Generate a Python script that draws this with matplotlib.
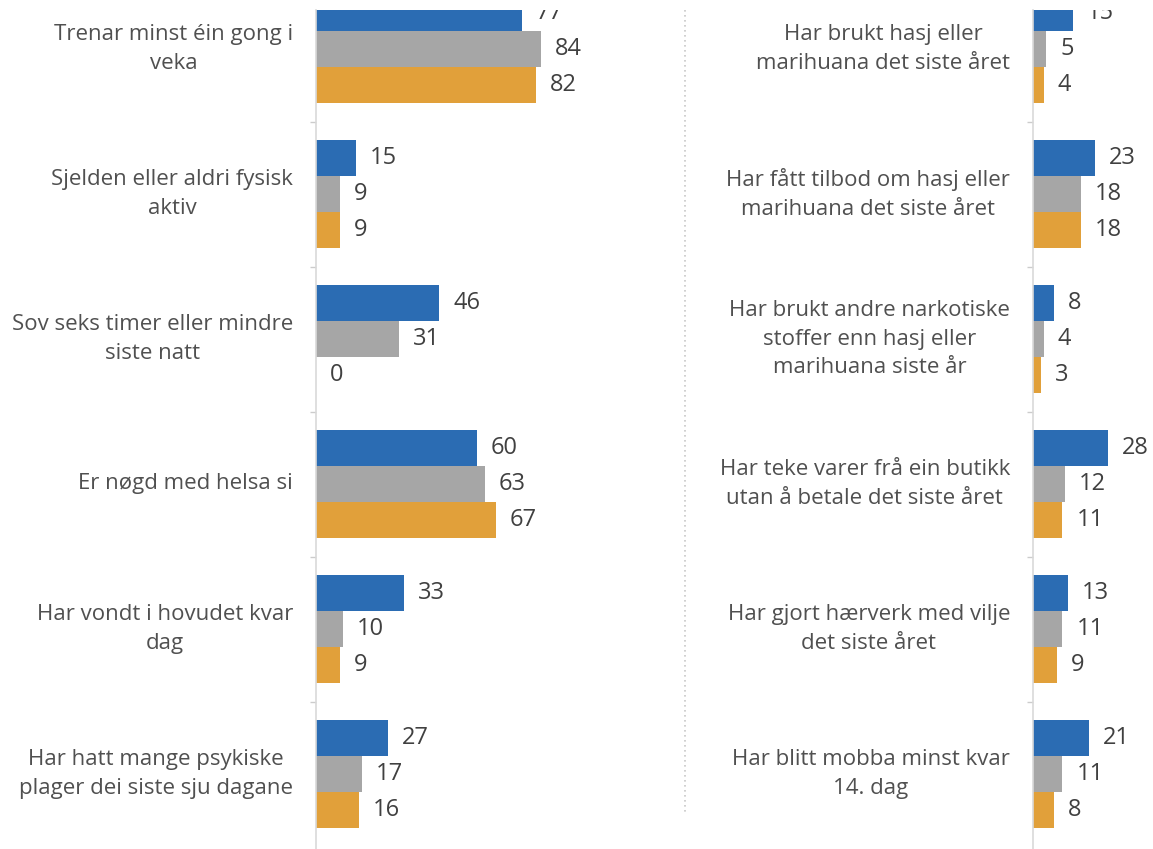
import matplotlib
matplotlib.use("Agg")
import matplotlib.pyplot as plt
import matplotlib.transforms as mtransforms
from matplotlib.lines import Line2D

# -- Data ---------------------------------------------------------------------
left_labels = [
    "Trenar minst éin gong i\nveka",
    "Sjelden eller aldri fysisk\naktiv",
    "Sov seks timer eller mindre\nsiste natt",
    "Er nøgd med helsa si",
    "Har vondt i hovudet kvar\ndag",
    "Har hatt mange psykiske\nplager dei siste sju dagane",
]
left_blue = [77, 15, 46, 60, 33, 27]
left_gray = [84, 9, 31, 63, 10, 17]
left_orange = [82, 9, 0, 67, 9, 16]

right_labels = [
    "Har brukt hasj eller\nmarihuana det siste året",
    "Har fått tilbod om hasj eller\nmarihuana det siste året",
    "Har brukt andre narkotiske\nstoffer enn hasj eller\nmarihuana siste år",
    "Har teke varer frå ein butikk\nutan å betale det siste året",
    "Har gjort hærverk med vilje\ndet siste året",
    "Har blitt mobba minst kvar\n14. dag",
]
right_blue = [15, 23, 8, 28, 13, 21]
right_gray = [5, 18, 4, 12, 11, 11]
right_orange = [4, 18, 3, 11, 9, 8]

# -- Style --------------------------------------------------------------------
BLUE, GRAY, ORANGE = "#2b6cb3", "#a6a6a6", "#e1a03a"
LABEL_COLOR, VALUE_COLOR = "#505050", "#404040"
plt.rcParams["font.family"] = ["Open Sans", "DejaVu Sans"]

W, H = 1153, 849
fig = plt.figure(figsize=(W / 100, H / 100), dpi=100)

PX_PER_UNIT = 2.68
PITCH = 145.0
TOP_PX, CENTER0_PX = 10, 49
BAR_H = 36 / PITCH


def px_box(x0, x1, y0, y1):
    return [x0 / W, 1 - y1 / H, (x1 - x0) / W, (y1 - y0) / H]


def draw_panel(axis_x, right_px, labels, blue, gray, orange, label_right):
    ax = fig.add_axes(px_box(axis_x, right_px, TOP_PX, H))
    ax.set_xlim(0, (right_px - axis_x) / PX_PER_UNIT)
    ax.set_ylim((H - CENTER0_PX) / PITCH, (TOP_PX - CENTER0_PX) / PITCH)
    n = len(labels)
    ys = list(range(n))
    val_trans = ax.transData + mtransforms.ScaledTranslation(10 / 72, 0, fig.dpi_scale_trans)
    for off, vals, col in [(-BAR_H, blue, BLUE), (0, gray, GRAY), (BAR_H, orange, ORANGE)]:
        ax.barh([y + off for y in ys], vals, height=BAR_H, color=col, linewidth=0)
        for y, v in zip(ys, vals):
            ax.text(v, y + off, str(v), transform=val_trans, ha="left", va="center",
                    fontsize=17, color=VALUE_COLOR, clip_on=True)
    # category labels: block right-aligned, lines centred
    lab_trans = mtransforms.blended_transform_factory(fig.transFigure, ax.transData)
    for y, lab in zip(ys, labels):
        ax.text(label_right / W, y, lab, transform=lab_trans, ha="right", va="center",
                multialignment="center", fontsize=16, color=LABEL_COLOR,
                linespacing=1.48, clip_on=False)
    for s in ["top", "right", "bottom"]:
        ax.spines[s].set_visible(False)
    ax.spines["left"].set_color("#d9d9d9")
    ax.spines["left"].set_linewidth(1.2)
    ax.set_xticks([])
    ax.set_yticks([y + 0.5 for y in ys[:-1]])
    ax.set_yticklabels([])
    ax.tick_params(axis="y", length=4, color="#cccccc", width=1)
    return ax


draw_panel(316, 675, left_labels, left_blue, left_gray, left_orange, 293)
draw_panel(1033, W, right_labels, right_blue, right_gray, right_orange, 1010)

# dotted separator between panels
fig.add_artist(Line2D([685 / W, 685 / W], [1 - 10 / H, 1 - 813 / H], transform=fig.transFigure,
                      color="#c8c8c8", linestyle=(0, (1, 2)), linewidth=1.2))

fig.savefig("out.png", dpi=100, facecolor="white")
